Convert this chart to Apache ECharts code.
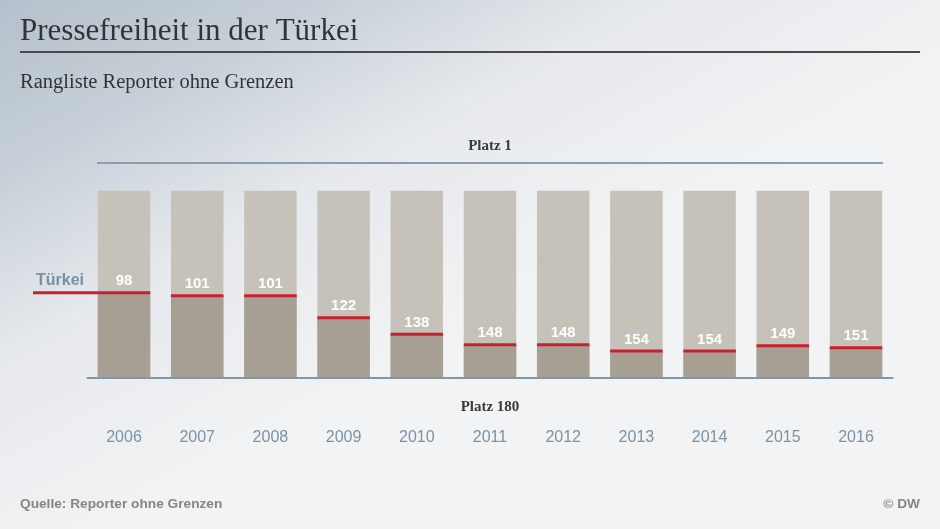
<!DOCTYPE html>
<html>
<head>
<meta charset="utf-8">
<script src="https://cdn.jsdelivr.net/npm/echarts@6/dist/echarts.min.js"></script>
<style>
html,body{margin:0;padding:0;}
#c{width:940px;height:529px;}
</style>
</head>
<body>
<div id="c"></div>
<script>
const years = ['2006','2007','2008','2009','2010','2011','2012','2013','2014','2015','2016'];
const ranks = [98,101,101,122,138,148,148,154,154,149,151];
const rankMin = 0;
const rankMax = 180;

const chart = echarts.init(document.getElementById('c'));
const serif = '"Liberation Serif", "DejaVu Serif", serif';
const sans = '"Liberation Sans", Arial, sans-serif';

const option = {
  animation: false,
  backgroundColor: {
    type: 'linear', x: 0, y: 0, x2: 0.27, y2: 0.87,
    colorStops: [
      {offset: 0, color: '#b4c0cb'},
      {offset: 0.3, color: '#c7d0d8'},
      {offset: 0.6, color: '#e6e9ed'},
      {offset: 1, color: '#f2f3f4'}
    ]
  },
  grid: {left: 87.4, right: 47.4, top: 190.7, bottom: 151},
  xAxis: {
    type: 'category',
    position: 'bottom',
    data: years,
    axisLine: {show: true, onZero: false, lineStyle: {color: '#8097aa', width: 2}},
    axisTick: {show: false},
    axisLabel: {color: '#7a91a6', fontFamily: sans, fontSize: 16, margin: 52}
  },
  yAxis: {
    type: 'value', inverse: true, min: rankMin, max: rankMax,
    show: false, splitLine: {show: false}
  },
  series: [{
    type: 'custom',
    data: ranks.map((r, i) => [i, r]),
    renderItem: function (params, api) {
      const i = api.value(0);
      const rank = api.value(1);
      const top = api.coord([i, rankMin]);
      const bot = api.coord([i, rankMax]);
      const rp = api.coord([i, rank]);
      const w = api.size([1, 0])[0] * 0.717;
      const x0 = top[0] - w / 2;
      const lx0 = i === 0 ? 33 : x0;
      return {
        type: 'group',
        children: [
          {type: 'rect', shape: {x: x0, y: top[1], width: w, height: bot[1] - top[1] - 1},
           style: {fill: '#c7c2b9'}},
          {type: 'rect', shape: {x: x0, y: rp[1], width: w, height: bot[1] - rp[1] - 1},
           style: {fill: '#a89f94'}},
          {type: 'line', shape: {x1: lx0, y1: rp[1], x2: x0 + w, y2: rp[1]},
           style: {stroke: '#c8202f', lineWidth: 3}},
          {type: 'text', style: {text: String(rank), x: top[0], y: rp[1] - 4,
            textAlign: 'center', textVerticalAlign: 'bottom', fill: '#ffffff',
            font: 'bold 15px ' + sans}}
        ]
      };
    }
  }],
  graphic: [
    {type: 'text', left: 20, top: 16, style: {text: 'Pressefreiheit in der Türkei', fill: '#333333', font: '31px ' + serif}},
    {type: 'line', shape: {x1: 20, y1: 52, x2: 920, y2: 52}, style: {stroke: '#4a4a4a', lineWidth: 2}},
    {type: 'text', left: 20, top: 72, style: {text: 'Rangliste Reporter ohne Grenzen', fill: '#333333', font: '20.5px ' + serif}},
    {type: 'line', shape: {x1: 97, y1: 163, x2: 883, y2: 163}, style: {stroke: '#8a9eb0', lineWidth: 2}},
    {type: 'text', x: 490, y: 146, style: {text: 'Platz 1', fill: '#3a3a3a', font: 'bold 15px ' + serif, textAlign: 'center', textVerticalAlign: 'middle'}},
    {type: 'text', x: 490, y: 407, style: {text: 'Platz 180', fill: '#3a3a3a', font: 'bold 15px ' + serif, textAlign: 'center', textVerticalAlign: 'middle'}},
    {type: 'text', x: 36, y: 281, style: {text: 'Türkei', fill: '#7a90a5', font: 'bold 16px ' + sans, textVerticalAlign: 'middle'}},
    {type: 'text', x: 20, y: 504, style: {text: 'Quelle: Reporter ohne Grenzen', fill: '#858585', font: 'bold 13.7px ' + sans, textVerticalAlign: 'middle'}},
    {type: 'text', x: 920, y: 504, style: {text: '© DW', fill: '#858585', font: 'bold 13.7px ' + sans, textAlign: 'right', textVerticalAlign: 'middle'}}
  ]
};
chart.setOption(option);
</script>
</body>
</html>
